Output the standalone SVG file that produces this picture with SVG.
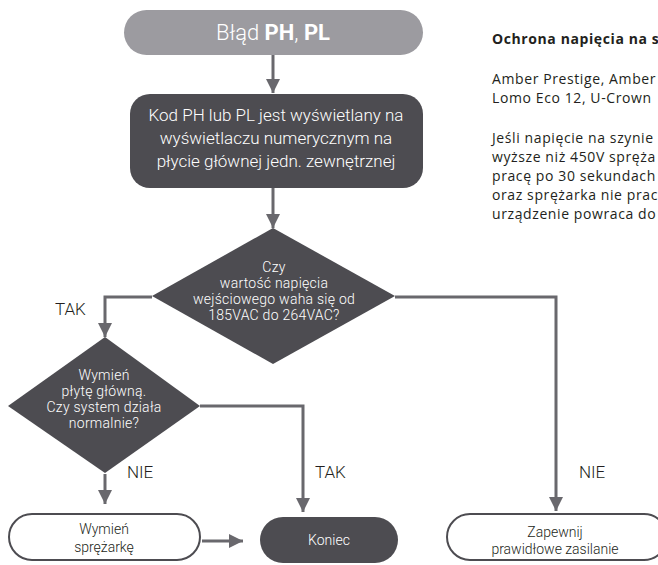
<svg xmlns="http://www.w3.org/2000/svg" width="658" height="565" viewBox="0 0 658 565">
<defs>
<style>
.dark{fill:#4d4c51}
.light{fill:#9c9ba0}
.open{fill:#ffffff;stroke:#4d4c51;stroke-width:2}
.wt{font-family:Roboto,"Liberation Sans",sans-serif;font-weight:300;fill:#ffffff;text-anchor:middle}
.bt{font-family:Roboto,"Liberation Sans",sans-serif;font-weight:300;fill:#231f20;text-anchor:middle}
.lbl{font-family:Roboto,"Liberation Sans",sans-serif;font-weight:300;fill:#231f20;font-size:17px}
.side{font-family:"Open Sans","Noto Sans",sans-serif;fill:#231f20;font-size:14px;letter-spacing:0.6px}
.conn{fill:none;stroke:#69686d;stroke-width:3}
</style>
<marker id="ah" markerUnits="userSpaceOnUse" markerWidth="14" markerHeight="14" refX="14" refY="7" orient="auto">
<path d="M0,0 L14,7 L0,14 z" fill="#69686d"/>
</marker>
</defs>
<g id="connectors">
<path class="conn" d="M273,55 V93" marker-end="url(#ah)"/>
<path class="conn" d="M273,188 V228" marker-end="url(#ah)"/>
<path class="conn" d="M152,297 H105 V337" marker-end="url(#ah)"/>
<path class="conn" d="M200,406 H303 V512" marker-end="url(#ah)"/>
<path class="conn" d="M395,297 H556 V511" marker-end="url(#ah)"/>
<path class="conn" d="M105,474 V504" marker-end="url(#ah)"/>
<path class="conn" d="M202,541 H243" marker-end="url(#ah)"/>
<text class="lbl" x="55" y="315">TAK</text>
<text class="lbl" x="127" y="478">NIE</text>
<text class="lbl" x="315" y="478">TAK</text>
<text class="lbl" x="579" y="478">NIE</text>
</g>
<g id="start">
<rect class="light" x="124" y="10" width="299" height="45" rx="22.5"/>
<text class="wt" x="273" y="40" font-size="22">Błąd <tspan font-weight="700">PH</tspan>, <tspan font-weight="700">PL</tspan></text>
</g>
<g id="display">
<rect class="dark" x="130" y="94" width="293" height="94" rx="20"/>
<text class="wt" font-size="17"><tspan x="276" y="121">Kod PH lub PL jest wyświetlany na</tspan><tspan x="276" y="144">wyświetlaczu numerycznym na</tspan><tspan x="276" y="167">płycie głównej jedn. zewnętrznej</tspan></text>
</g>
<g id="voltage">
<polygon class="dark" points="273,228 395,296 273,364 152,296"/>
<text class="wt" font-size="14" letter-spacing="0.25"><tspan x="274" y="272">Czy</tspan><tspan x="274" y="288">wartość napięcia</tspan><tspan x="274" y="304">wejściowego waha się od</tspan><tspan x="274" y="320">185VAC do 264VAC?</tspan></text>
</g>
<g id="board">
<polygon class="dark" points="105,337 200,406 105,473 8,406"/>
<text class="wt" font-size="14" letter-spacing="0.25"><tspan x="104" y="380">Wymień</tspan><tspan x="104" y="396">płytę główną.</tspan><tspan x="104" y="412">Czy system działa</tspan><tspan x="104" y="428">normalnie?</tspan></text>
</g>
<g id="compressor">
<rect class="open" x="9" y="514" width="191" height="46" rx="23"/>
<text class="bt" font-size="14"><tspan x="104" y="534">Wymień</tspan><tspan x="104" y="552">sprężarkę</tspan></text>
</g>
<g id="end">
<rect class="dark" x="260" y="517" width="138" height="46" rx="23"/>
<text class="wt" x="329" y="545" font-size="14">Koniec</text>
</g>
<g id="power">
<rect class="open" x="447" y="514" width="220" height="46" rx="23"/>
<text class="bt" font-size="14"><tspan x="555" y="537">Zapewnij</tspan><tspan x="555" y="554">prawidłowe zasilanie</tspan></text>
</g>
<g id="note">
<text class="side" x="492" y="44" font-weight="700" font-size="13" letter-spacing="0.2">Ochrona napięcia na s</text>
<text class="side" x="492" y="84">Amber Prestige, Amber</text>
<text class="side" x="492" y="103">Lomo Eco 12, U-Crown</text>
<text class="side" x="492" y="143">Jeśli napięcie na szynie</text>
<text class="side" x="492" y="162">wyższe niż 450V spręża</text>
<text class="side" x="492" y="181">pracę po 30 sekundach</text>
<text class="side" x="492" y="200">oraz sprężarka nie prac</text>
<text class="side" x="492" y="219">urządzenie powraca do</text>
</g>
</svg>
